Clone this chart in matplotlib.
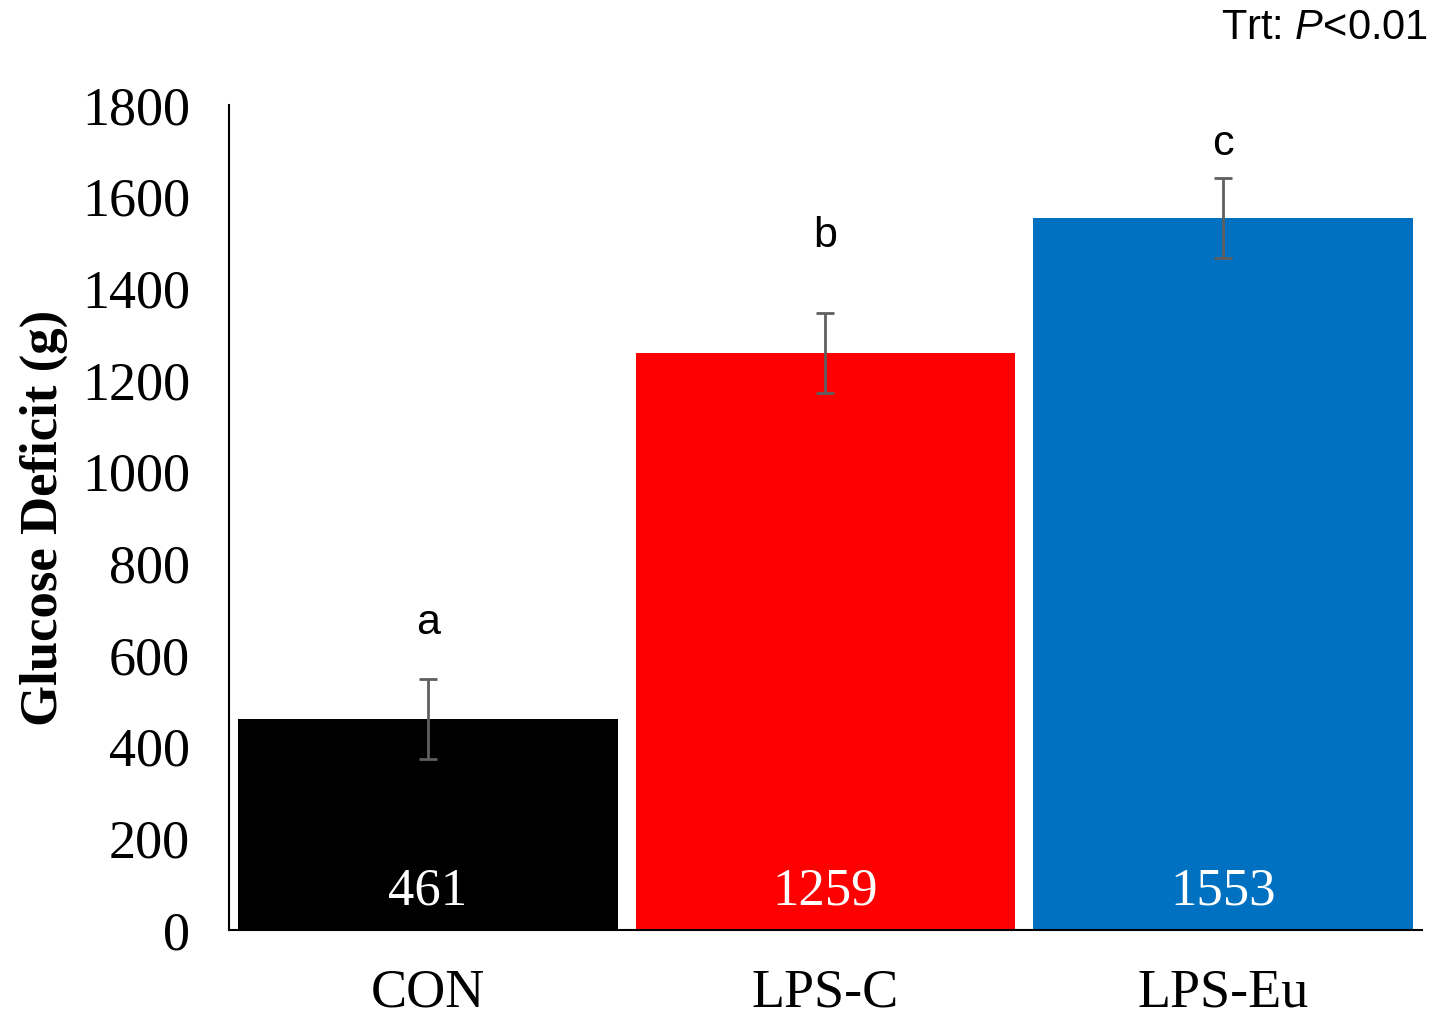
import matplotlib
matplotlib.use("Agg")
import matplotlib.pyplot as plt

plt.rcParams["mathtext.fontset"] = "custom"
plt.rcParams["mathtext.rm"] = "Liberation Sans"
plt.rcParams["mathtext.it"] = "Liberation Sans:italic"

categories = ["CON", "LPS-C", "LPS-Eu"]
means = [461, 1259, 1553]
sem = [87, 87, 87]
letters = ["a", "b", "c"]
bar_colors = ["#000000", "#FF0000", "#0070C0"]
yticks = [0, 200, 400, 600, 800, 1000, 1200, 1400, 1600, 1800]

serif = ["Liberation Serif", "DejaVu Serif"]
sans = ["Liberation Sans", "DejaVu Sans"]

fig = plt.figure(figsize=(14.32, 10.16), dpi=100)
ax = fig.add_axes([0.1599, 0.0846, 0.8331, 0.8121])

x = list(range(len(categories)))
ax.bar(x, means, width=0.955, color=bar_colors, zorder=2)
ax.errorbar(x, means, yerr=sem, fmt="none", ecolor="#5f5f5f", elinewidth=2,
            capsize=6.5, capthick=2, zorder=3)

# significance letters above each bar
letter_y = [670, 1515, 1715]
for xi, lt, ly in zip(x, letters, letter_y):
    ax.text(xi, ly, lt, ha="center", va="center", fontsize=31, family=sans)

# mean values printed inside the bars
for xi, m in zip(x, means):
    ax.text(xi, 85, f"{m}", ha="center", va="center", fontsize=38,
            color="white", family=serif)

ax.set_xlim(-0.5, 2.5)
ax.set_ylim(0, 1800)
ax.set_yticks(yticks)
ax.set_yticklabels([str(t) for t in yticks], fontsize=39, family=serif)
ax.set_xticks(x)
ax.set_xticklabels(categories, fontsize=39, family=serif)
ax.tick_params(axis="y", length=0, pad=28)
ax.tick_params(axis="x", length=0, pad=27)
for lbl in ax.get_yticklabels():
    lbl.set_horizontalalignment("right")

ax.spines["top"].set_visible(False)
ax.spines["right"].set_visible(False)
ax.spines["left"].set_linewidth(1.5)
ax.spines["bottom"].set_linewidth(1.5)

ax.set_ylabel("Glucose Deficit (g)", fontsize=38, fontweight="bold",
              family=serif)
ax.yaxis.set_label_coords(-0.135, 0.5)

fig.text(0.997, 0.972, "Trt: $\\mathit{P}$<0.01", ha="right", va="center",
         fontsize=30, family=sans)

fig.savefig("out.png", dpi=100)
